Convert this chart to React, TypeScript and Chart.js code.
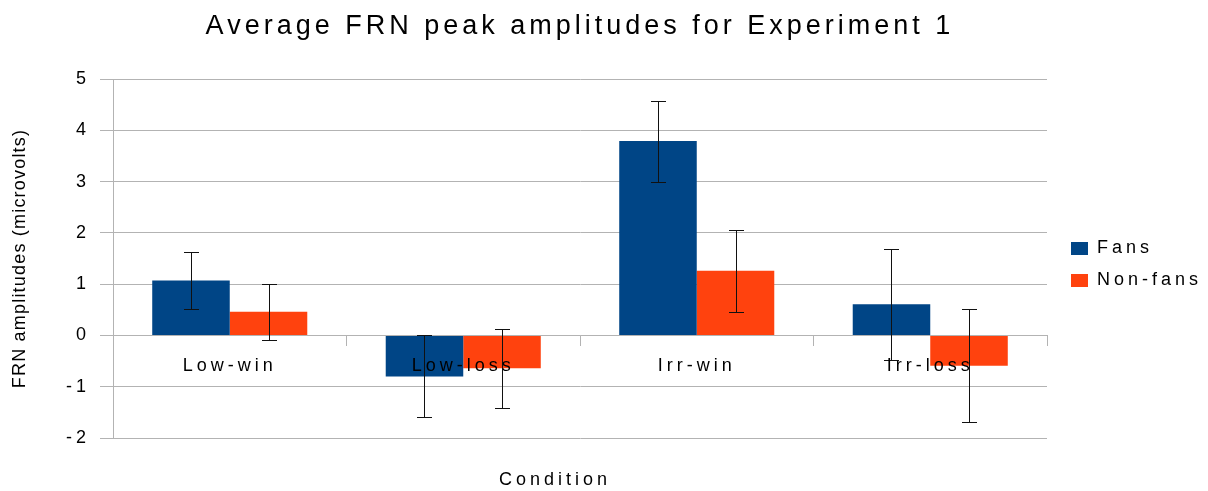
import React, { useEffect, useRef } from 'react';
import { Chart, registerables } from 'chart.js';

Chart.register(...registerables);

const TITLE = 'Average FRN peak amplitudes for Experiment 1';
const Y_TITLE = 'FRN amplitudes (microvolts)';
const X_TITLE = 'Condition';

const categories = ['Low-win', 'Low-loss', 'Irr-win', 'Irr-loss'];
const seriesNames = ['Fans', 'Non-fans'];
const fansValues = [1.07, -0.8, 3.79, 0.61];
const nonFansValues = [0.46, -0.64, 1.26, -0.59];
const fansErrors = [0.55, 0.8, 0.79, 1.08];
const nonFansErrors = [0.55, 0.77, 0.8, 1.1];
const yMin = -2;
const yMax = 5;
const yStep = 1;

const FONT = '"Liberation Sans", Arial, sans-serif';
const GRID = '#b3b3b3';

const spacingPlugin = {
  id: 'letterSpacing',
  beforeUpdate(chart: any) {
    (chart.ctx as any).letterSpacing = '4px';
  },
  beforeLayout(chart: any) {
    (chart.ctx as any).letterSpacing = '4px';
  },
  beforeDraw(chart: any) {
    (chart.ctx as any).letterSpacing = '4px';
  },
};

const errorBarPlugin = {
  id: 'errorBars',
  afterDatasetsDraw(chart: any, _args: any, opts: any) {
    const ctx = chart.ctx;
    const yScale = chart.scales.y;
    ctx.save();
    ctx.strokeStyle = opts.color;
    ctx.lineWidth = 1;
    chart.data.datasets.forEach((ds: any, i: number) => {
      const meta = chart.getDatasetMeta(i);
      const errs = opts.errors[i];
      meta.data.forEach((el: any, j: number) => {
        const v = ds.data[j];
        const e = errs[j];
        const x = Math.round(el.x) + 0.5;
        const yTop = Math.round(yScale.getPixelForValue(v + e)) + 0.5;
        const yBot = Math.round(yScale.getPixelForValue(v - e)) + 0.5;
        const half = opts.capWidth / 2;
        ctx.beginPath();
        ctx.moveTo(x, yTop);
        ctx.lineTo(x, yBot);
        ctx.moveTo(x - half, yTop);
        ctx.lineTo(x + half, yTop);
        ctx.moveTo(x - half, yBot);
        ctx.lineTo(x + half, yBot);
        ctx.stroke();
      });
    });
    ctx.restore();
  },
};

const axisTitlePlugin = {
  id: 'axisTitles',
  afterDraw(chart: any) {
    const ctx = chart.ctx;
    const area = chart.chartArea;
    ctx.save();
    ctx.fillStyle = '#000';
    ctx.font = `18px ${FONT}`;
    ctx.textAlign = 'center';
    ctx.textBaseline = 'middle';
    (ctx as any).letterSpacing = '1.2px';
    ctx.translate(20, (area.top + area.bottom) / 2);
    ctx.rotate(-Math.PI / 2);
    ctx.fillText(Y_TITLE, 0, 0);
    ctx.restore();

    ctx.save();
    ctx.fillStyle = '#000';
    ctx.font = `18px ${FONT}`;
    ctx.textAlign = 'center';
    ctx.textBaseline = 'middle';
    (ctx as any).letterSpacing = '4px';
    ctx.fillText(X_TITLE, (area.left + area.right) / 2 - 25, area.bottom + 42);
    ctx.restore();
  },
};

export default function App() {
  const canvasRef = useRef<HTMLCanvasElement | null>(null);

  useEffect(() => {
    document.body.style.margin = '0';
    const canvas = canvasRef.current;
    if (!canvas) return;
    Chart.defaults.font.family = FONT;
    Chart.defaults.color = '#000';

    const chart = new Chart(canvas, {
      type: 'bar',
      data: {
        labels: categories,
        datasets: [
          {
            label: seriesNames[0],
            data: fansValues,
            backgroundColor: '#004586',
            borderWidth: 0,
            categoryPercentage: 0.664,
            barPercentage: 1,
          },
          {
            label: seriesNames[1],
            data: nonFansValues,
            backgroundColor: '#ff420e',
            borderWidth: 0,
            categoryPercentage: 0.664,
            barPercentage: 1,
          },
        ],
      },
      options: {
        responsive: false,
        animation: false,
        devicePixelRatio: 1,
        layout: { padding: { left: 0, right: 0, top: 0, bottom: 53 } },
        scales: {
          x: {
            type: 'category',
            position: { y: 0 } as any,
            offset: true,
            grid: {
              display: true,
              drawOnChartArea: false,
              drawTicks: true,
              tickLength: 10,
              color: GRID,
            },
            border: { display: true, color: GRID },
            ticks: {
              font: { size: 18 },
              color: '#000',
              padding: 10,
              autoSkip: false,
              maxRotation: 0,
              z: 1,
            },
          },
          y: {
            type: 'linear',
            position: 'left',
            min: yMin,
            max: yMax,
            ticks: {
              stepSize: yStep,
              font: { size: 18 },
              color: '#000',
              padding: 10,
            },
            grid: { color: GRID, tickLength: 13, lineWidth: 1 },
            border: { display: true, color: GRID },
            afterFit: (s: any) => {
              s.width = 113;
            },
          },
          yr: {
            type: 'linear',
            position: 'right',
            display: true,
            grid: { display: false },
            border: { display: false },
            ticks: { display: false },
            afterFit: (s: any) => {
              s.width = 10;
            },
          },
        },
        plugins: {
          title: {
            display: true,
            text: TITLE,
            position: 'top',
            fullSize: false,
            font: { size: 27, weight: 'normal' },
            color: '#000',
            padding: { top: 10, bottom: 36.6 },
          },
          legend: {
            display: true,
            position: 'right',
            fullSize: false,
            maxWidth: 151,
            title: {
              display: true,
              text: '',
              padding: { top: 12, bottom: 0 },
              font: { size: 1, lineHeight: 0 },
            },
            labels: {
              font: { size: 18 },
              color: '#000',
              boxWidth: 17,
              boxHeight: 13,
              padding: 14,
            },
          },
          tooltip: { enabled: false },
          errorBars: {
            errors: [fansErrors, nonFansErrors],
            color: '#111',
            capWidth: 15,
          },
        } as any,
      },
      plugins: [spacingPlugin, errorBarPlugin, axisTitlePlugin],
    });

    return () => {
      chart.destroy();
    };
  }, []);

  return (
    <div style={{ position: 'fixed', left: 0, top: 0, width: 1208, height: 491, background: '#fff' }}>
      <canvas ref={canvasRef} width={1208} height={491} style={{ display: 'block' }} />
    </div>
  );
}
